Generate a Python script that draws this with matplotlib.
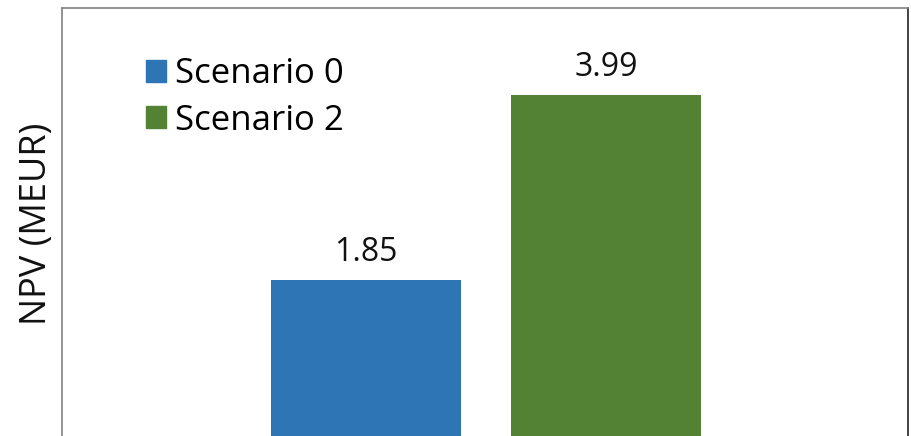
import matplotlib
matplotlib.use("Agg")

import matplotlib.pyplot as plt
import matplotlib.patches as mpatches

# Valores de NPV por escenario
scenarios = ['Scenario 0', 'Scenario 2']
npv = [1.85, 3.99]
bar_pos = [0, 1]
colors = ['#2E75B6', '#548235']

plt.rcParams['font.family'] = ['Open Sans', 'DejaVu Sans']

fig = plt.figure(figsize=(9.12, 4.36), dpi=100)
ax = fig.add_axes([62 / 912, -4 / 436, 846 / 912, 432 / 436])

bars = ax.bar(bar_pos, npv, width=0.79, color=colors)

# Etiquetas de valor encima de cada barra
for b, v in zip(bars, npv):
    ax.annotate(f'{v:.2f}', (b.get_x() + b.get_width() / 2, v),
                xytext=(0, 8), textcoords='offset points',
                ha='center', va='bottom', fontsize=23, color='#111111')

ax.set_xlim(-1.267, 2.258)
ax.set_ylim(0, 5)
ax.set_xticks([])
ax.set_yticks([])
ax.set_ylabel('NPV (MEUR)', fontsize=26, color='#111111', labelpad=5)

for side in ['left', 'top', 'bottom']:
    ax.spines[side].set_color('#808080')
ax.spines['right'].set_color('#222222')
for s in ax.spines.values():
    s.set_linewidth(1.2)

# Leyenda
handles = [mpatches.Patch(color=c, label=s) for c, s in zip(colors, scenarios)]
ax.legend(handles=handles, loc='upper left', bbox_to_anchor=(146 / 912, 1 - 57 / 436),
          bbox_transform=fig.transFigure, frameon=False, fontsize=25,
          handlelength=0.58, handleheight=0.58, handletextpad=0.25,
          labelspacing=0.36, borderpad=0, borderaxespad=0)

fig.savefig('out.png', dpi=100)
